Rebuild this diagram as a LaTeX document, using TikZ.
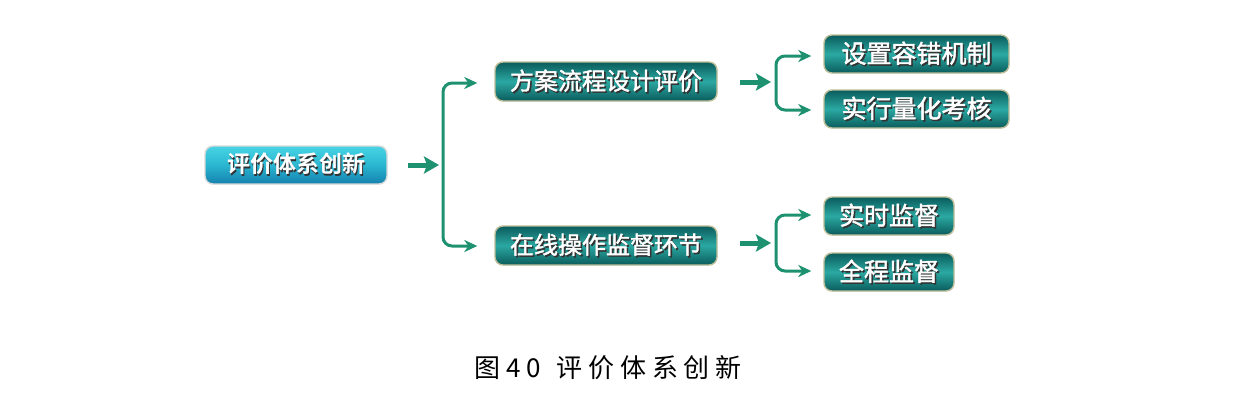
\documentclass[tikz,border=0pt]{standalone}
\usepackage{fontspec}
\setmainfont{Noto Sans CJK SC}
\newfontfamily\boxfont[BoldFont=* Bold]{Noto Sans CJK SC}
\newfontfamily\tealfont[FakeBold=1.6]{Noto Sans CJK SC}
\newfontfamily\capfont[LetterSpace=22]{Noto Sans CJK SC}
\usetikzlibrary{arrows.meta,calc}
\definecolor{arrowgreen}{HTML}{1E9270}
\definecolor{tealdark}{HTML}{0A5C5C}
\definecolor{teallight}{HTML}{2BA8A2}
\definecolor{cyantop}{HTML}{48D4E4}
\definecolor{cyanmid}{HTML}{2AB6D0}
\definecolor{cyanbot}{HTML}{1580AE}
\definecolor{boxborder}{HTML}{BDBD98}
\newcommand{\shtext}[1]{\makebox[0pt][l]{\raisebox{-1.6pt}{\hspace{1.6pt}\textcolor{black!80}{#1}}}\textcolor{white}{#1}}
\tikzset{
  basebox/.style={rounded corners=8pt, draw=boxborder, line width=1.4pt, inner sep=0pt},
  tealbox/.style={basebox, top color=tealdark, bottom color=tealdark, middle color=teallight,
    font=\tealfont\fontsize{24}{24}\selectfont},
  cyanbox/.style={basebox, top color=cyantop, bottom color=cyanbot, middle color=cyanmid, draw=black!15,
    font=\boxfont\bfseries\fontsize{23}{23}\selectfont},
  fatarrow/.style={draw=arrowgreen, line width=5pt, -{Stealth[length=15pt,width=17pt,inset=3pt]}},
  brarrow/.style={draw=arrowgreen, line width=3pt, rounded corners=9pt, -{Stealth[length=13pt,width=12pt,inset=4pt]}},
}
\begin{document}
\begin{tikzpicture}[x=1pt,y=-1pt]
\useasboundingbox (0,0) rectangle (1245,416);
\fill[white] (0,0) rectangle (1245,416);

\node[cyanbox, minimum width=182pt, minimum height=38pt] (root) at (296,165) {\shtext{评价体系创新}};
\node[tealbox, minimum width=222pt, minimum height=39pt] (b1) at (606,81.5) {\shtext{方案流程设计评价}};
\node[tealbox, minimum width=222pt, minimum height=39pt] (b2) at (606,245.5) {\shtext{在线操作监督环节}};
\node[tealbox, minimum width=185pt, minimum height=38pt, font=\tealfont\fontsize{25}{25}\selectfont] (c1) at (916.5,54) {\shtext{设置容错机制}};
\node[tealbox, minimum width=185pt, minimum height=38pt, font=\tealfont\fontsize{25}{25}\selectfont] (c2) at (916.5,109) {\shtext{实行量化考核}};
\node[tealbox, minimum width=130pt, minimum height=38pt, font=\tealfont\fontsize{25}{25}\selectfont] (c3) at (889,216) {\shtext{实时监督}};
\node[tealbox, minimum width=130pt, minimum height=38pt, font=\tealfont\fontsize{25}{25}\selectfont] (c4) at (889,272) {\shtext{全程监督}};

% root bracket
\coordinate (j0) at (443,165);
\draw[fatarrow] ($(root.east)+(20,0)$) -- ($(j0)+(-4,0)$);
\draw[brarrow] (j0) |- ($(b1.west)+(-17,1.5)$);
\draw[brarrow] (j0) |- ($(b2.west)+(-17,0.5)$);

% upper bracket
\coordinate (j1) at (776,82);
\draw[fatarrow] ($(b1.east)+(22,0.5)$) -- ($(j1)+(-5,0)$);
\draw[brarrow] (j1) |- ($(c1.west)+(-12,2)$);
\draw[brarrow] (j1) |- ($(c2.west)+(-12,1)$);

% lower bracket
\coordinate (j2) at (776,243);
\draw[fatarrow] ($(b2.east)+(22,-2.5)$) -- ($(j2)+(-5,0)$);
\draw[brarrow] (j2) |- ($(c3.west)+(-12,-1)$);
\draw[brarrow] (j2) |- ($(c4.west)+(-12,-1)$);

\node[font=\capfont\fontsize{26}{26}\selectfont, inner sep=0pt] (cap) at (608,368) {图40\hspace*{16pt}评价体系创新};
\end{tikzpicture}
\end{document}
